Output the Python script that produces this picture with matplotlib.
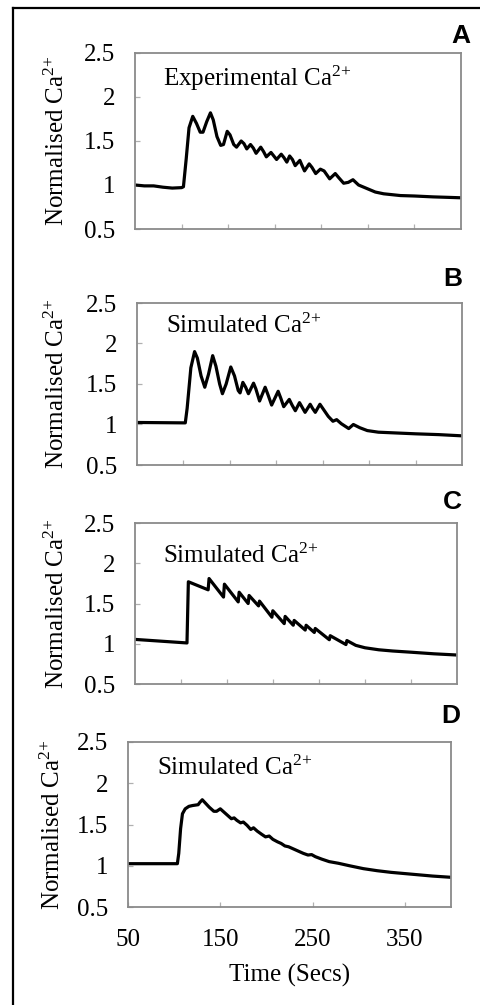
import matplotlib
matplotlib.use("Agg")
import matplotlib.pyplot as plt
from matplotlib.lines import Line2D

plt.rcParams['font.family'] = ['Liberation Serif', 'DejaVu Serif']
plt.rcParams['mathtext.fontset'] = 'custom'
plt.rcParams['mathtext.rm'] = 'Liberation Serif'
plt.rcParams['mathtext.it'] = 'Liberation Serif:italic'
plt.rcParams['mathtext.bf'] = 'Liberation Serif:bold'
plt.rcParams['mathtext.default'] = 'regular'

# ---------------- data ----------------
time_a = [50, 60, 70, 80, 90, 100, 102, 105, 108, 112, 116, 120, 123, 127, 131, 134, 138, 142, 145,
          149, 152, 156, 159, 164, 167, 170, 174, 177, 180, 185, 188, 191, 196, 199, 202, 207, 210,
          213, 216, 219, 222, 227, 229, 232, 237, 240, 244, 249, 253, 259, 265, 269, 274, 279, 284,
          290, 299, 308, 317, 335, 350, 370, 385, 399]
ca_a = [1.0, 0.99, 0.99, 0.975, 0.965, 0.97, 0.98, 1.3, 1.65, 1.78, 1.7, 1.6, 1.6, 1.72, 1.82, 1.74,
        1.55, 1.45, 1.46, 1.61, 1.57, 1.46, 1.43, 1.5, 1.47, 1.41, 1.46, 1.42, 1.36, 1.43, 1.38, 1.32,
        1.37, 1.33, 1.29, 1.35, 1.31, 1.26, 1.33, 1.29, 1.22, 1.28, 1.23, 1.16, 1.24, 1.2, 1.13, 1.18,
        1.16, 1.07, 1.13, 1.08, 1.02, 1.03, 1.06, 1.0, 0.96, 0.92, 0.9, 0.88, 0.875, 0.865, 0.86, 0.855]

time_b = [50, 102, 104, 108, 112, 115, 119, 123, 127, 131.5, 135, 139, 142, 146, 151, 155, 159, 161,
          164, 167, 170, 175.5, 178, 182, 188, 191, 195, 202, 205, 208, 214, 217, 220.5, 225, 228, 231,
          236.5, 239, 242, 247, 250, 256, 261, 265, 270, 278, 283, 290, 298, 310, 330, 350, 375, 400]
ca_b = [1.025, 1.02, 1.2, 1.7, 1.9, 1.82, 1.6, 1.46, 1.62, 1.85, 1.72, 1.5, 1.38, 1.5, 1.71, 1.6, 1.42,
        1.39, 1.52, 1.46, 1.38, 1.51, 1.44, 1.29, 1.46, 1.37, 1.24, 1.41, 1.32, 1.22, 1.31, 1.24, 1.17,
        1.27, 1.21, 1.15, 1.25, 1.2, 1.15, 1.25, 1.2, 1.1, 1.04, 1.06, 1.01, 0.95, 1.0, 0.96, 0.925,
        0.905, 0.895, 0.885, 0.875, 0.86]

time_c = [50, 106.5, 108, 129.5, 130.5, 146.2, 147.2, 162.2, 163.2, 173, 174, 184.3, 185.3, 198.8,
          199.8, 212.2, 213.2, 222, 223, 235, 236, 244.9, 245.9, 261.2, 262.2, 279.3, 280.3, 290, 300,
          315, 330, 350, 375, 400]
ca_c = [1.054, 1.01, 1.77, 1.67, 1.81, 1.58, 1.74, 1.52, 1.64, 1.5, 1.6, 1.47, 1.53, 1.33, 1.41, 1.25,
        1.34, 1.23, 1.29, 1.17, 1.23, 1.14, 1.19, 1.05, 1.1, 0.99, 1.04, 0.98, 0.95, 0.925, 0.91, 0.895,
        0.875, 0.86]

time_d = [50, 103.5, 105, 107, 109, 112, 116, 120, 126, 128, 130.5, 133, 138, 143, 146, 150, 153, 158,
          162, 165, 168, 172, 175, 179, 183, 186, 190, 195, 199, 203, 207, 212, 216, 220, 224, 228, 232,
          236, 240, 245, 249, 253, 260, 268, 278, 290, 305, 320, 335, 350, 365, 380, 400]
ca_d = [1.025, 1.025, 1.15, 1.45, 1.63, 1.69, 1.72, 1.73, 1.74, 1.77, 1.8, 1.77, 1.71, 1.66, 1.66, 1.69,
        1.66, 1.61, 1.57, 1.58, 1.55, 1.52, 1.53, 1.49, 1.44, 1.46, 1.42, 1.38, 1.35, 1.36, 1.32, 1.29,
        1.27, 1.24, 1.23, 1.21, 1.19, 1.17, 1.15, 1.13, 1.135, 1.11, 1.08, 1.05, 1.03, 1.0, 0.965, 0.94,
        0.92, 0.905, 0.89, 0.875, 0.86]

panel_letters = ['A', 'B', 'C', 'D']
panel_titles = ['Experimental Ca$^{2{+}}$', 'Simulated Ca$^{2{+}}$', 'Simulated Ca$^{2{+}}$',
                'Simulated Ca$^{2{+}}$']
y_ticks = [0.5, 1, 1.5, 2, 2.5]
y_tick_labels = ['0.5', '1', '1.5', '2', '2.5']
x_ticks_upper = [100, 150, 200, 250, 300, 350]
x_ticks_bottom = [50, 150, 250, 350]
y_label = 'Normalised Ca$^{2{+}}$'
x_label = 'Time (Secs)'

series = [(time_a, ca_a), (time_b, ca_b), (time_c, ca_c), (time_d, ca_d)]

# ---------------- layout (pixels) ----------------
W, H = 480, 1005
fig = plt.figure(figsize=(W / 100, H / 100), dpi=100)

def fx(px):
    return px / W

def fy(py):
    return 1 - py / H

# left, top, right, bottom in pixels
boxes = [(135, 53, 461, 229), (137, 303, 462, 465), (135, 523, 457, 684), (128, 742, 451, 907)]
letter_pos = [(461, 36), (453, 279), (452, 502), (451, 716)]
title_pos = [(163, 86), (166, 333), (163, 563), (157, 775)]
ylabel_x = [57, 57, 57, 53]

fs = 18
spine_col = '#8a8a8a'
for i, ((t, v), (l, tp, r, b)) in enumerate(zip(series, boxes)):
    ax = fig.add_axes([fx(l), fy(b), (r - l) / W, (b - tp) / H])
    ax.plot(t, v, color='black', lw=2.3, solid_joinstyle='round')
    ax.set_xlim(50, 400)
    ax.set_ylim(0.5, 2.5)
    ax.set_yticks(y_ticks)
    ax.set_yticklabels(y_tick_labels)
    for s in ax.spines.values():
        s.set_color(spine_col)
        s.set_linewidth(1.3)
    ax.tick_params(direction='in', length=3.5, width=0.9, color='#b0b0b0',
                   labelsize=fs, right=False, top=False)
    ax.tick_params(axis='y', pad=14)
    if i < 3:
        ax.set_xticks(x_ticks_upper)
        ax.set_xticklabels([])
    else:
        ax.set_xticks(x_ticks_bottom)
        ax.set_xticklabels([str(x) for x in x_ticks_bottom])
        ax.tick_params(axis='x', pad=16)
    fig.text(fx(title_pos[i][0]), fy(title_pos[i][1]), panel_titles[i], fontsize=fs,
             ha='left', va='baseline')
    fig.text(fx(letter_pos[i][0]), fy(letter_pos[i][1]), panel_letters[i], fontsize=19,
             fontweight='bold', family=['Liberation Sans', 'DejaVu Sans'],
             ha='center', va='center')
    fig.text(fx(ylabel_x[i]), fy((tp + b) / 2), y_label, fontsize=fs, rotation=90,
             ha='center', va='center')

fig.text(fx(290), fy(975), x_label, fontsize=fs, ha='center', va='center')

# outer frame lines (left and top)
fig.add_artist(Line2D([fx(13), fx(13)], [fy(8), 0], color='black', lw=1.6,
                      transform=fig.transFigure))
fig.add_artist(Line2D([fx(13), 1], [fy(8), fy(8)], color='black', lw=1.6,
                      transform=fig.transFigure))

fig.savefig('out.png', dpi=100)
